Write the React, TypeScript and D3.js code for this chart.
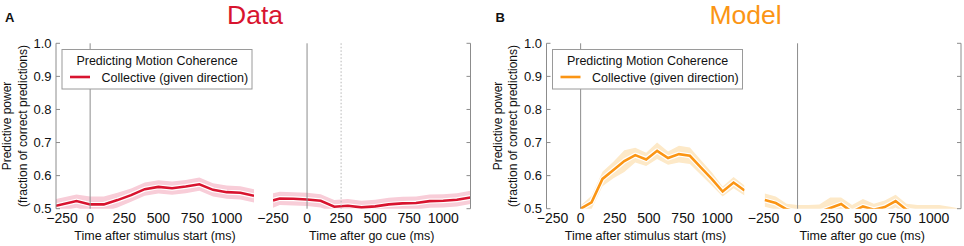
import React from "react";
import * as d3 from "d3";

// ---- data ----
const xTicks = [-250, 0, 250, 500, 750, 1000];
const yTicks = [0.5, 0.6, 0.7, 0.8, 0.9, 1.0];

const dataStimTimes = [-250, -100, 0, 100, 200, 300, 400, 500, 600, 700, 800, 900, 1000, 1100, 1200];
const dataStimMean = [0.509, 0.523, 0.513, 0.513, 0.526, 0.541, 0.559, 0.566, 0.562, 0.567, 0.574, 0.557, 0.55, 0.548, 0.539];
const dataStimErr = [0.02, 0.02, 0.024, 0.024, 0.022, 0.02, 0.02, 0.02, 0.02, 0.02, 0.02, 0.02, 0.02, 0.02, 0.02];

const dataGoTimes = [-250, -200, -100, 0, 100, 200, 300, 400, 500, 600, 700, 800, 900, 1000, 1100, 1200];
const dataGoMean = [0.525, 0.531, 0.53, 0.528, 0.524, 0.506, 0.509, 0.504, 0.507, 0.513, 0.516, 0.517, 0.523, 0.524, 0.527, 0.534];
const dataGoErr = [0.022, 0.02, 0.02, 0.02, 0.02, 0.02, 0.02, 0.02, 0.02, 0.02, 0.02, 0.02, 0.02, 0.02, 0.02, 0.02];

const modelStimTimes = [0, 80, 160, 240, 320, 400, 480, 560, 640, 720, 800, 880, 960, 1040, 1120, 1200];
const modelStimMean = [0.5, 0.519, 0.59, 0.617, 0.644, 0.662, 0.649, 0.675, 0.653, 0.665, 0.66, 0.625, 0.59, 0.552, 0.579, 0.555];
const modelStimErr = [0.01, 0.02, 0.022, 0.025, 0.033, 0.022, 0.02, 0.025, 0.02, 0.025, 0.025, 0.022, 0.02, 0.015, 0.017, 0.015];

const modelGoTimes = [-240, -160, -80, 0, 80, 160, 240, 320, 400, 480, 560, 640, 720, 800, 880, 960, 1040, 1120, 1200];
const modelGoMean = [0.526, 0.517, 0.498, 0.49, 0.485, 0.49, 0.502, 0.514, 0.49, 0.507, 0.497, 0.505, 0.523, 0.497, 0.49, 0.49, 0.49, 0.485, 0.48];
const modelGoErr = [0.02, 0.02, 0.017, 0.021, 0.026, 0.023, 0.032, 0.02, 0.021, 0.022, 0.018, 0.02, 0.019, 0.018, 0.021, 0.021, 0.021, 0.021, 0.02];

const legendTitle = "Predicting Motion Coherence";
const legendEntry = "Collective (given direction)";
const xLabelStim = "Time after stimulus start (ms)";
const xLabelGo = "Time after go cue (ms)";
const yLabel1 = "Predictive power";
const yLabel2 = "(fraction of correct predictions)";

const FONT = "'Liberation Sans', Arial, Helvetica, sans-serif";
const RED = "#d8142f";
const RED_BAND = "#f8cdd8";
const ORANGE = "#fb9514";
const ORANGE_BAND = "#fde9c8";
const AXIS = "#8c8c8c";

const yScale = d3.scaleLinear().domain([0.5, 1.0]).range([208.7, 43.3]);
const fmtTick = (v: number) => (v < 0 ? "\u2212" + Math.abs(v) : String(v));

type SubProps = {
  id: string;
  x0: number;
  x1: number;
  side: "left" | "right";
  times: number[];
  mean: number[];
  err: number[];
  color: string;
  band: string;
  xLabel: string;
  dotted?: number;
};

function Subplot({ id, x0, x1, side, times, mean, err, color, band, xLabel, dotted }: SubProps) {
  const x = d3.scaleLinear().domain([-250, 1200]).range([x0, x1]);
  const pts = times.map((t, i) => ({ t, m: mean[i], e: err[i] }));
  const area = d3
    .area<{ t: number; m: number; e: number }>()
    .x((d) => x(d.t))
    .y0((d) => yScale(d.m - d.e))
    .y1((d) => yScale(d.m + d.e));
  const line = d3
    .line<{ t: number; m: number; e: number }>()
    .x((d) => x(d.t))
    .y((d) => yScale(d.m));
  const [yb, yt] = yScale.range();
  const spineX = side === "left" ? x0 : x1;
  const tickDir = side === "left" ? 1 : -1;
  return (
    <g>
      <defs>
        <clipPath id={id}>
          <rect x={x0} y={yt} width={x1 - x0} height={yb - yt} />
        </clipPath>
      </defs>
      <g clipPath={`url(#${id})`}>
        <path d={area(pts) || ""} fill={band} stroke="none" />
        <path d={line(pts) || ""} fill="none" stroke="#ffffff" strokeWidth={5} strokeLinejoin="round" />
        <path d={line(pts) || ""} fill="none" stroke={color} strokeWidth={2.6} strokeLinejoin="miter" />
      </g>
      {/* zero line */}
      <line x1={x(0)} x2={x(0)} y1={yt} y2={yb} stroke={AXIS} strokeWidth={1} />
      {dotted !== undefined && (
        <line x1={x(dotted)} x2={x(dotted)} y1={yt} y2={yb} stroke="#b5b5b5" strokeWidth={1} strokeDasharray="1.5,2" />
      )}
      {/* y spine */}
      <line x1={spineX} x2={spineX} y1={yt} y2={yb} stroke={AXIS} strokeWidth={1} />
      {yTicks.map((v) => (
        <g key={v}>
          <line x1={spineX} x2={spineX + tickDir * 4} y1={yScale(v)} y2={yScale(v)} stroke={AXIS} strokeWidth={1} />
          {side === "left" && (
            <text x={spineX - 4.5} y={yScale(v) + 4.4} textAnchor="end" fontSize={13} fontFamily={FONT} fill="#111">
              {d3.format(".1f")(v)}
            </text>
          )}
        </g>
      ))}
      {xTicks.map((v, i) => (
        <text
          key={v}
          x={x(v) + (side === "left" && i === 0 ? 6 : 0)}
          y={223}
          textAnchor="middle"
          fontSize={14}
          fontFamily={FONT}
          fill="#111"
        >
          {fmtTick(v)}
        </text>
      ))}
      <text x={(x0 + x1) / 2} y={240} textAnchor="middle" fontSize={12.5} fontFamily={FONT} fill="#111">
        {xLabel}
      </text>
    </g>
  );
}

function Panel({ dx, letter, title, color, band, stim, go }: any) {
  return (
    <g transform={`translate(${dx},0)`}>
      <text x={5} y={21.7} fontSize={13} fontWeight="bold" fontFamily={FONT} fill="#111">
        {letter}
      </text>
      <text x={255} y={23.5} textAnchor="middle" fontSize={26.5} fontFamily={FONT} fill={color}>
        {title}
      </text>
      <g transform="translate(11,126) rotate(-90)">
        <text x={0} y={0} textAnchor="middle" fontSize={12} fontFamily={FONT} fill="#111">
          {yLabel1}
        </text>
        <text x={0} y={15.5} textAnchor="middle" fontSize={12} fontFamily={FONT} fill="#111">
          {yLabel2}
        </text>
      </g>
      <Subplot id={`clip-${letter}-1`} x0={56} x1={254} side="left" color={color} band={band} xLabel={xLabelStim} {...stim} />
      <Subplot id={`clip-${letter}-2`} x0={273} x1={470.5} side="right" color={color} band={band} xLabel={xLabelGo} {...go} />
      {/* legend */}
      <rect x={62} y={49.5} width={190} height={39.5} fill="#ffffff" stroke="#9a9a9a" strokeWidth={1} />
      <text x={157} y={65} textAnchor="middle" fontSize={12.5} fontFamily={FONT} fill="#111">
        {legendTitle}
      </text>
      <line x1={70} x2={90} y1={77} y2={77} stroke={color} strokeWidth={2.6} />
      <text x={101.5} y={81.5} fontSize={12.5} fontFamily={FONT} fill="#111">
        {legendEntry}
      </text>
    </g>
  );
}

export default function App() {
  return (
    <svg width={964} height={246} style={{ position: "absolute", left: 0, top: 0, background: "#fff" }}>
      <rect width={964} height={246} fill="#fff" />
      <Panel
        dx={0}
        letter="A"
        title="Data"
        color={RED}
        band={RED_BAND}
        stim={{ times: dataStimTimes, mean: dataStimMean, err: dataStimErr }}
        go={{ times: dataGoTimes, mean: dataGoMean, err: dataGoErr, dotted: 250 }}
      />
      <Panel
        dx={490.5}
        letter="B"
        title="Model"
        color={ORANGE}
        band={ORANGE_BAND}
        stim={{ times: modelStimTimes, mean: modelStimMean, err: modelStimErr }}
        go={{ times: modelGoTimes, mean: modelGoMean, err: modelGoErr }}
      />
    </svg>
  );
}
